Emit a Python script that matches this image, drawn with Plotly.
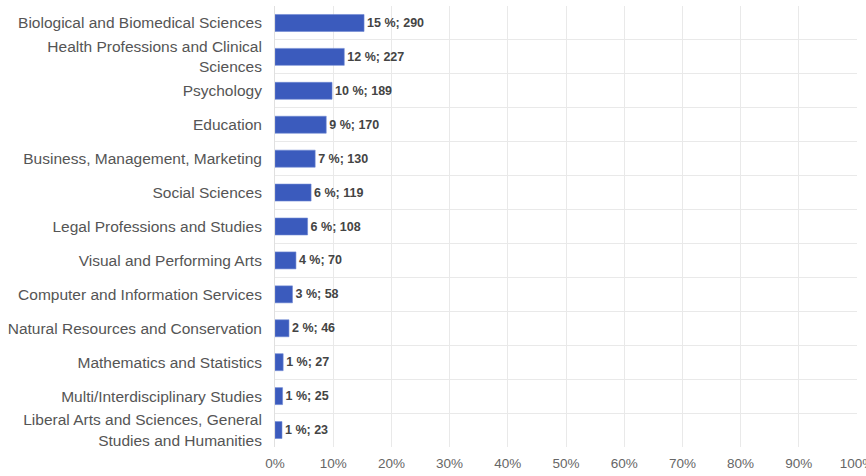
import plotly.graph_objects as go

categories = [
    "Biological and Biomedical Sciences",
    "Health Professions and Clinical<br>Sciences",
    "Psychology",
    "Education",
    "Business, Management, Marketing",
    "Social Sciences",
    "Legal Professions and Studies",
    "Visual and Performing Arts",
    "Computer and Information Services",
    "Natural Resources and Conservation",
    "Mathematics and Statistics",
    "Multi/Interdisciplinary Studies",
    "Liberal Arts and Sciences, General<br>Studies and Humanities",
]
shares = [15.3, 11.9, 9.8, 8.8, 6.9, 6.2, 5.6, 3.6, 3.0, 2.4, 1.4, 1.3, 1.2]
pct_labels = [15, 12, 10, 9, 7, 6, 6, 4, 3, 2, 1, 1, 1]
counts = [290, 227, 189, 170, 130, 119, 108, 70, 58, 46, 27, 25, 23]
x_ticks = [0, 10, 20, 30, 40, 50, 60, 70, 80, 90, 100]

texts = [f"{p} %; {c}" for p, c in zip(pct_labels, counts)]

fig = go.Figure(go.Bar(
    x=shares, y=categories, orientation="h",
    marker=dict(color="#3b5bbd", line=dict(color="#6f88d4", width=0.6)),
    text=texts, textposition="outside", cliponaxis=False,
    textfont=dict(family="Liberation Sans, Arial, sans-serif", size=12.5, color="#444444", weight="bold"),
))

fig.update_layout(
    width=866, height=476,
    margin=dict(l=275, r=9, t=6, b=29),
    plot_bgcolor="white", paper_bgcolor="white",
    bargap=0.5,
    showlegend=False,
    font=dict(family="Liberation Sans, Arial, sans-serif", size=15.5, color="#555555"),
)
fig.update_xaxes(
    range=[0, 100], tickvals=x_ticks, ticktext=[f"{t}%" for t in x_ticks],
    showgrid=True, gridcolor="#e9e9e9", gridwidth=1, zeroline=False,
    showline=False, ticks="", tickfont=dict(size=13.5, color="#666666"),
    automargin=False, ticklabeloverflow="allow", ticklabelstandoff=6,
)
fig.update_yaxes(
    type="category", categoryorder="array", categoryarray=categories,
    autorange="reversed", tickson="boundaries", showgrid=True,
    gridcolor="#e9e9e9", gridwidth=1, ticks="", ticklabelstandoff=9,
    showline=True, linecolor="#e0e0e0", tickfont=dict(size=15.5, color="#555555"),
    automargin=False,
)

fig.write_html("out.html", config={"displayModeBar": False},
               post_script="document.body.style.margin='0';")
